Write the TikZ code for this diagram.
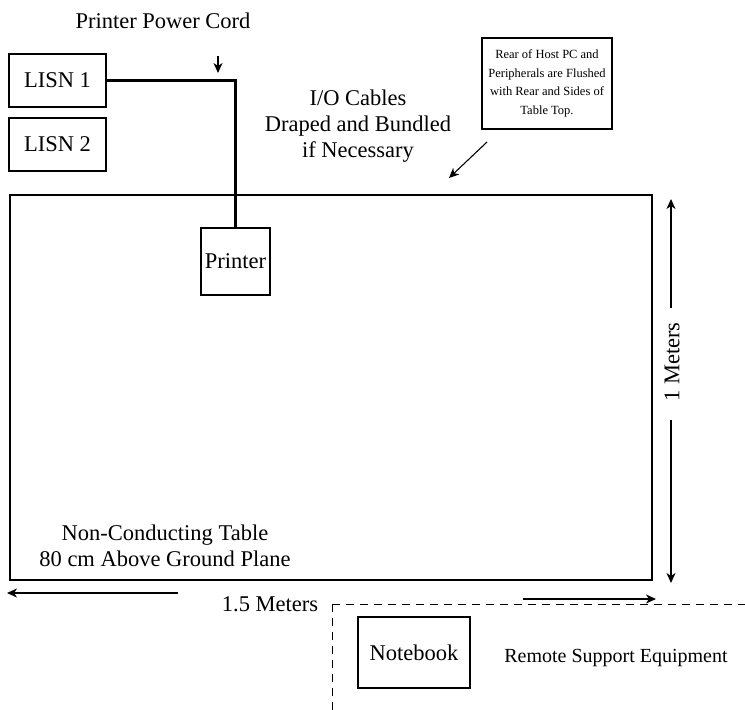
\documentclass[tikz,border=0pt]{standalone}
\usepackage{fontspec}
\setmainfont{Liberation Serif}
\usetikzlibrary{arrows.meta}
\begin{document}
\begin{tikzpicture}[x=1pt,y=-1pt,
  big/.style={font=\fontsize{22.5}{26}\selectfont},
  boxed/.style={draw,line width=1.2pt,inner sep=0pt,big},
  thick1/.style={line width=2.2pt},
  dim/.style={line width=1.1pt,-{Stealth[length=10pt,width=9pt,inset=3pt]}},
  dsh/.style={line width=1pt,dash pattern=on 8pt off 6pt}]
\useasboundingbox (0,0) rectangle (745,710);
% table
\node[draw,thick1,minimum width=642pt,minimum height=385pt,inner sep=0pt] (table) at (331,387.5) {};
\node[big,align=center] (tabtxt) at (165,546) {Non-Conducting Table\\80 cm Above Ground Plane};
% LISN
\node[boxed,minimum width=97pt,minimum height=53pt] (lisn1) at (57.5,80.5) {LISN 1};
\node[boxed,minimum width=97pt,minimum height=53pt] (lisn2) at (57.5,144.5) {LISN 2};
% printer
\node[boxed,minimum width=69pt,minimum height=67pt] (printer) at (235.5,261.5) {Printer};
\draw[thick1] (lisn1.east) -| (printer.north);
% power cord label
\node[big] (pwr) at (163,21) {Printer Power Cord};
\coordinate (pa) at (218,56);
\coordinate (pb) at (218,73);
\draw[dim] (pa) -- (pb);
% I/O cables
\node[big,align=center] (io) at (358,126) {I/O Cables\\Draped and Bundled\\if Necessary};
% note box
\node[draw,thick1,minimum width=130pt,minimum height=91pt,align=center,inner sep=0pt,
  font=\fontsize{12.5}{18.5}\selectfont] (note) at (547,83.5) {Rear of Host PC and\\Peripherals are Flushed\\with Rear and Sides of\\Table Top.};
\coordinate (na) at (487,142);
\coordinate (nb) at (449,178);
\draw[dim] (na) -- (nb);
% vertical dimension
\node[big,rotate=90] (vm) at (672,362) {1 Meters};
\coordinate (vt) at (671,199);
\coordinate (vb) at (671,583);
\draw[dim] (671,308) -- (vt);
\draw[dim] (671,420) -- (vb);
% horizontal dimension
\node[big] (hm) at (270,604) {1.5 Meters};
\coordinate (hl) at (7,593);
\coordinate (hr) at (656,599);
\draw[dim] (178,593) -- (hl);
\draw[dim] (523,599) -- (hr);
% remote area
\coordinate (rc) at (332,604);
\coordinate (re) at (745,604);
\coordinate (rb) at (332,710);
\draw[dsh] (rc) -- (re);
\draw[dsh] (rc) -- (rb);
\node[boxed,minimum width=112pt,minimum height=71pt] (nb1) at (414,652.5) {Notebook};
\node[font=\fontsize{20}{24}\selectfont] (rse) at (616,658) {Remote Support Equipment};
\end{tikzpicture}
\end{document}
